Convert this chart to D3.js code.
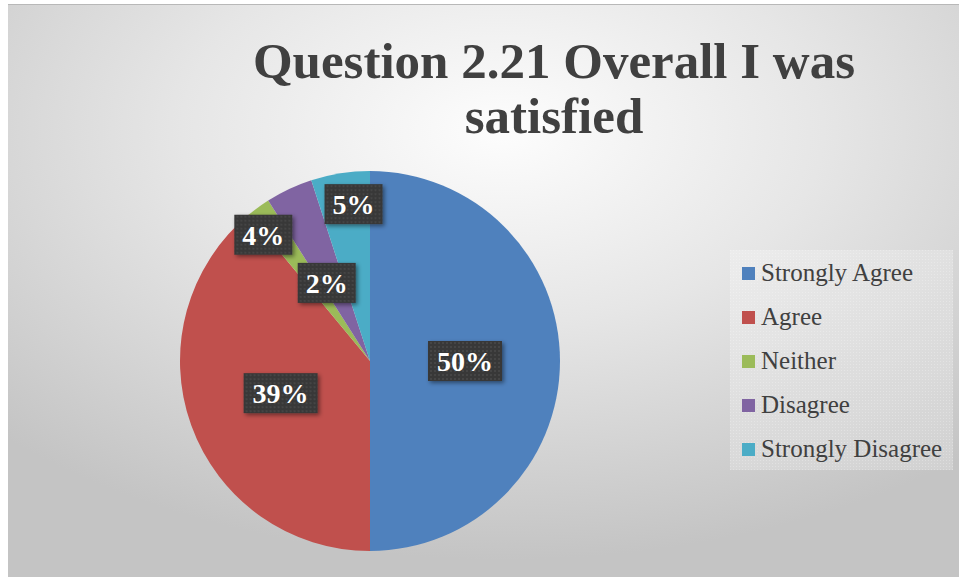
<!DOCTYPE html>
<html>
<head>
<meta charset="utf-8">
<script src="https://cdn.jsdelivr.net/npm/d3@7"></script>
<style>
  body { margin: 0; background: #fff; }
  svg { display: block; }
</style>
</head>
<body>
<svg id="chart"></svg>
<script>
// data
const categories = ['Strongly Agree', 'Agree', 'Neither', 'Disagree', 'Strongly Disagree'];
const values = [50, 39, 2, 4, 5];
const labels = ['50%', '39%', '2%', '4%', '5%'];
const colors = ['#4f81bd', '#c0504d', '#9bbb59', '#8064a2', '#4bacc6'];
const title = ['Question 2.21 Overall I was', 'satisfied'];

const width = 959, height = 577;
const serif = "'Liberation Serif', 'DejaVu Serif', serif";

const svg = d3.select('#chart')
    .attr('width', width)
    .attr('height', height);

const defs = svg.append('defs');

const bg = defs.append('radialGradient')
    .attr('id', 'bg')
    .attr('cx', '52%').attr('cy', '22%').attr('r', '75%');
bg.append('stop').attr('offset', '0%').attr('stop-color', '#fdfdfd');
bg.append('stop').attr('offset', '45%').attr('stop-color', '#e6e6e6');
bg.append('stop').attr('offset', '100%').attr('stop-color', '#c4c4c4');

const dots = defs.append('pattern')
    .attr('id', 'dots')
    .attr('width', 4).attr('height', 4)
    .attr('patternUnits', 'userSpaceOnUse');
dots.append('rect').attr('width', 4).attr('height', 4).attr('fill', '#383838');
dots.append('circle').attr('cx', 2).attr('cy', 2).attr('r', 0.9).attr('fill', '#4a4a4a');

const legDots = defs.append('pattern')
    .attr('id', 'legdots')
    .attr('width', 3).attr('height', 3)
    .attr('patternUnits', 'userSpaceOnUse');
legDots.append('rect').attr('width', 3).attr('height', 3).attr('fill', '#ffffff').attr('fill-opacity', 0.22);
legDots.append('rect').attr('width', 1).attr('height', 1).attr('fill', '#ffffff').attr('fill-opacity', 0.25);

const shadow = defs.append('filter')
    .attr('id', 'shadow')
    .attr('x', '-20%').attr('y', '-20%').attr('width', '150%').attr('height', '160%');
shadow.append('feDropShadow')
    .attr('dx', 2).attr('dy', 2).attr('stdDeviation', 2)
    .attr('flood-color', '#000').attr('flood-opacity', 0.45);

// chart area
svg.append('rect')
    .attr('x', 8).attr('y', 4)
    .attr('width', width - 8).attr('height', height - 4)
    .attr('fill', 'url(#bg)');
svg.append('line')
    .attr('x1', 8).attr('x2', width)
    .attr('y1', 4.5).attr('y2', 4.5)
    .attr('stroke', '#b8b8b8');

// title
svg.append('text')
    .attr('x', 554)
    .attr('text-anchor', 'middle')
    .attr('font-family', serif)
    .attr('font-weight', 'bold')
    .attr('font-size', 51)
    .attr('fill', '#404040')
    .selectAll('tspan')
    .data(title)
    .join('tspan')
    .attr('x', 554)
    .attr('y', (d, i) => 78 + i * 55)
    .text(d => d);

// pie
const cx = 370, cy = 361, radius = 190;

const pie = d3.pie().sort(null).value(d => d.value);
const arcs = pie(categories.map((c, i) => ({ name: c, value: values[i], label: labels[i], color: colors[i] })));

const arc = d3.arc().innerRadius(0).outerRadius(radius);

const g = svg.append('g')
    .attr('transform', `translate(${cx}, ${cy})`);

g.selectAll('path')
    .data(arcs)
    .join('path')
    .attr('d', arc)
    .attr('fill', d => d.data.color);

// label placement: radius factor and angle nudge (degrees) like Excel's best fit
const labelLayout = {
    'Strongly Agree':    { r: 0.5,  da: 0 },
    'Agree':             { r: 0.5,  da: 0 },
    'Neither':           { r: 0.47, da: 7 },
    'Disagree':          { r: 0.87, da: -15 },
    'Strongly Disagree': { r: 0.83, da: 3 }
};

const labelG = g.selectAll('g.label')
    .data(arcs)
    .join('g')
    .attr('class', 'label')
    .attr('transform', d => {
        const lay = labelLayout[d.data.name];
        const a = (d.startAngle + d.endAngle) / 2 + lay.da * Math.PI / 180;
        const r = radius * lay.r;
        return `translate(${Math.sin(a) * r}, ${-Math.cos(a) * r})`;
    });

labelG.append('rect')
    .attr('x', d => -(d.data.label.length > 2 ? 37 : 29))
    .attr('y', -20)
    .attr('width', d => d.data.label.length > 2 ? 74 : 58)
    .attr('height', 40)
    .attr('fill', 'url(#dots)')
    .attr('filter', 'url(#shadow)');

labelG.append('text')
    .attr('text-anchor', 'middle')
    .attr('y', 10)
    .attr('font-family', serif)
    .attr('font-weight', 'bold')
    .attr('font-size', 28)
    .attr('fill', '#ffffff')
    .text(d => d.data.label);

// legend
const legend = svg.append('g')
    .attr('transform', 'translate(730, 250)');

legend.append('rect')
    .attr('width', 223)
    .attr('height', 220)
    .attr('fill', 'url(#legdots)');

const item = legend.selectAll('g.item')
    .data(categories)
    .join('g')
    .attr('class', 'item')
    .attr('transform', (d, i) => `translate(0, ${31 + i * 44})`);

item.append('rect')
    .attr('x', 12)
    .attr('y', -14)
    .attr('width', 13)
    .attr('height', 13)
    .attr('fill', (d, i) => colors[i]);

item.append('text')
    .attr('x', 31)
    .attr('font-family', serif)
    .attr('font-size', 25)
    .attr('fill', '#404040')
    .text(d => d);
</script>
</body>
</html>
